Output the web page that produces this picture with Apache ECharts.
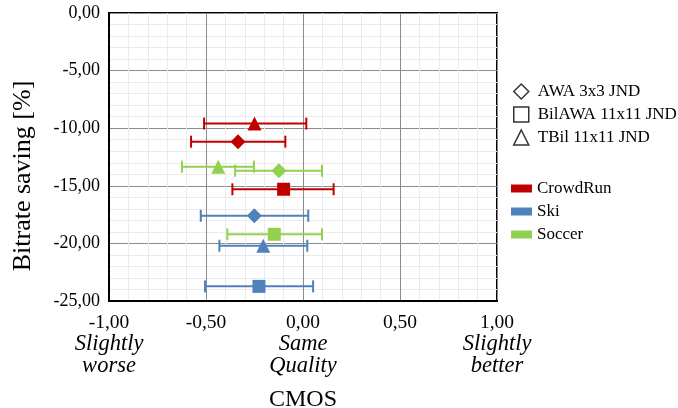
<!DOCTYPE html>
<html>
<head>
<meta charset="utf-8">
<script src="https://cdn.jsdelivr.net/npm/echarts@6/dist/echarts.min.js"></script>
<style>
html,body{margin:0;padding:0;background:#fff;}
#chart{width:678px;height:408px;}
</style>
</head>
<body>
<div id="chart"></div>
<script>
// ---- data ----
const methods = ['AWA 3x3 JND', 'BilAWA 11x11 JND', 'TBil 11x11 JND'];
const methodSymbols = ['diamond', 'rect', 'triangle'];
const sequences = ['CrowdRun', 'Ski', 'Soccer'];
const seqColors = ['#C00000', '#4F81BD', '#92D050'];

// per sequence, in the order of methods
const cmosCrowdRun = [-0.335, -0.10, -0.25];
const bitrateCrowdRun = [-11.17, -15.30, -9.60];
const lowCrowdRun = [-0.577, -0.364, -0.51];
const highCrowdRun = [-0.091, 0.158, 0.017];

const cmosSki = [-0.251, -0.227, -0.205];
const bitrateSki = [-17.60, -23.73, -20.20];
const lowSki = [-0.527, -0.505, -0.431];
const highSki = [0.027, 0.052, 0.022];

const cmosSoccer = [-0.124, -0.148, -0.437];
const bitrateSoccer = [-13.69, -19.21, -13.34];
const lowSoccer = [-0.35, -0.39, -0.624];
const highSoccer = [0.098, 0.098, -0.253];

const xTickLabels = ['-1,00', '-0,50', '0,00', '0,50', '1,00'];
const xTickNotes = [['Slightly', 'worse'], [], ['Same', 'Quality'], [], ['Slightly', 'better']];
const xTickValues = [-1, -0.5, 0, 0.5, 1];
const yTitle = 'Bitrate saving [%]';
const xTitle = 'CMOS';

// ---- build ----
const seqData = {
  CrowdRun: {cmos: cmosCrowdRun, br: bitrateCrowdRun, lo: lowCrowdRun, hi: highCrowdRun},
  Ski: {cmos: cmosSki, br: bitrateSki, lo: lowSki, hi: highSki},
  Soccer: {cmos: cmosSoccer, br: bitrateSoccer, lo: lowSoccer, hi: highSoccer}
};

const FONT = 'Liberation Serif';
const series = [];

sequences.forEach((s, si) => {
  const d = seqData[s];
  series.push({
    name: s,
    type: 'custom',
    z: 2,
    itemStyle: {color: seqColors[si]},
    encode: {x: [0, 1], y: 2},
    data: methods.map((m, i) => [d.lo[i], d.hi[i], d.br[i]]),
    renderItem: function (params, api) {
      const y = api.value(2);
      const p1 = api.coord([api.value(0), y]);
      const p2 = api.coord([api.value(1), y]);
      const h = 6;
      const color = api.visual('color');
      const st = {stroke: color, lineWidth: 2};
      return {
        type: 'group',
        children: [
          {type: 'line', shape: {x1: p1[0], y1: p1[1], x2: p2[0], y2: p2[1]}, style: st},
          {type: 'line', shape: {x1: p1[0], y1: p1[1] - h, x2: p1[0], y2: p1[1] + h}, style: st},
          {type: 'line', shape: {x1: p2[0], y1: p2[1] - h, x2: p2[0], y2: p2[1] + h}, style: st}
        ]
      };
    }
  });
  series.push({
    name: s,
    type: 'scatter',
    z: 3,
    itemStyle: {color: seqColors[si], opacity: 1},
    data: methods.map((m, i) => ({
      value: [d.cmos[i], d.br[i]],
      symbol: methodSymbols[i],
      symbolSize: i === 1 ? 13 : (i === 0 ? 15 : 14)
    }))
  });
});

methods.forEach((m, i) => {
  series.push({
    name: m,
    type: 'scatter',
    symbol: methodSymbols[i],
    itemStyle: {color: '#fff', borderColor: '#000', borderWidth: 1.5},
    data: []
  });
});

const chart = echarts.init(document.getElementById('chart'), null, {renderer: 'canvas'});
chart.setOption({
  backgroundColor: '#fff',
  animation: false,
  grid: {left: 109, right: 181, top: 13, bottom: 107, outerBoundsMode: 'none', containLabel: false, show: true, borderColor: '#000', borderWidth: 2, backgroundColor: 'transparent'},
  graphic: [
    {
      type: 'text',
      x: 23,
      y: 176,
      rotation: Math.PI / 2,
      style: {text: yTitle, fontFamily: FONT, fontSize: 26, fill: '#000', align: 'center', verticalAlign: 'middle'}
    }
  ],
  legend: [
    {
      orient: 'vertical',
      left: 513,
      top: 83,
      padding: 0,
      itemWidth: 15,
      itemHeight: 15,
      itemGap: 6,
      textStyle: {fontFamily: FONT, fontSize: 17, lineHeight: 17, color: '#000', padding: [0, 0, 0, 4]},
      data: methods.map((m, i) => ({
        name: m,
        icon: methodSymbols[i],
        itemStyle: {color: '#fff', borderColor: '#000', borderWidth: 1.5}
      }))
    },
    {
      orient: 'vertical',
      left: 511,
      top: 180,
      padding: 0,
      itemWidth: 21,
      itemHeight: 8,
      itemGap: 6,
      icon: 'rect',
      textStyle: {fontFamily: FONT, fontSize: 17, lineHeight: 17, color: '#000'},
      data: sequences.map((s, i) => ({name: s, itemStyle: {color: seqColors[i]}}))
    }
  ],
  xAxis: {
    type: 'value',
    min: -1,
    max: 1,
    interval: 0.5,
    name: xTitle,
    nameLocation: 'middle',
    nameGap: 87,
    nameTextStyle: {fontFamily: FONT, fontSize: 24, color: '#000'},
    axisLine: {show: true, onZero: false, lineStyle: {color: '#000', width: 2}},
    axisTick: {show: false},
    splitLine: {show: true, lineStyle: {color: '#8c8c8c', width: 1}},
    minorTick: {show: false, splitNumber: 5},
    minorSplitLine: {show: true, lineStyle: {color: '#ebebeb', width: 1}},
    axisLabel: {
      margin: 11,
      formatter: function (v) {
        const i = xTickValues.findIndex(t => Math.abs(t - v) < 1e-9);
        if (i < 0) return '';
        let s = '{n|' + xTickLabels[i] + '}';
        xTickNotes[i].forEach(w => { s += '\n{i|' + w + '}'; });
        return s;
      },
      rich: {
        n: {fontFamily: FONT, fontSize: 19.5, color: '#000', lineHeight: 21},
        i: {fontFamily: FONT, fontSize: 22.5, fontStyle: 'italic', color: '#000', lineHeight: 22}
      }
    }
  },
  yAxis: {
    type: 'value',
    min: -25,
    max: 0,
    interval: 5,
    axisLine: {show: true, onZero: false, lineStyle: {color: '#000', width: 2}},
    axisTick: {show: false},
    splitLine: {show: true, lineStyle: {color: '#8c8c8c', width: 1}},
    minorTick: {show: false, splitNumber: 5},
    minorSplitLine: {show: true, lineStyle: {color: '#ebebeb', width: 1}},
    axisLabel: {
      margin: 9,
      fontFamily: FONT,
      fontSize: 18,
      color: '#000',
      formatter: function (v) { return v.toFixed(2).replace('.', ','); }
    }
  },
  series: series
});
</script>
</body>
</html>
